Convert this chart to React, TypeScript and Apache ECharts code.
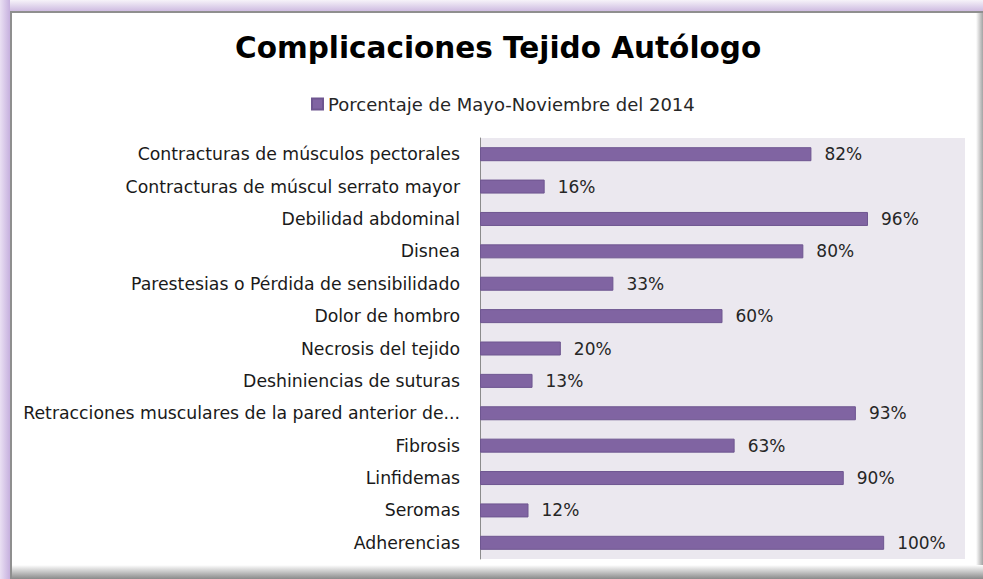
import React, { useEffect, useRef } from "react";
import * as echarts from "echarts";

const categories = [
  "Contracturas de músculos pectorales",
  "Contracturas de múscul serrato mayor",
  "Debilidad abdominal",
  "Disnea",
  "Parestesias o Pérdida de sensibilidado",
  "Dolor de hombro",
  "Necrosis del tejido",
  "Deshiniencias de suturas",
  "Retracciones musculares de la pared anterior de...",
  "Fibrosis",
  "Linfidemas",
  "Seromas",
  "Adherencias",
];
const values = [82, 16, 96, 80, 33, 60, 20, 13, 93, 63, 90, 12, 100];
const seriesName = "Porcentaje de Mayo-Noviembre del 2014";
const titleText = "Complicaciones Tejido Autólogo";

const FONT = "DejaVu Sans";

export default function App() {
  const ref = useRef<HTMLDivElement>(null);
  useEffect(() => {
    const chart = echarts.init(ref.current!, null, { renderer: "svg" });
    chart.setOption({
      animation: false,
      backgroundColor: "#ffffff",
      textStyle: { fontFamily: FONT },
      title: {
        text: titleText,
        left: 230,
        top: 28,
        textStyle: { fontFamily: FONT, fontSize: 29.5, fontWeight: "bold", color: "#000000" },
      },
      legend: {
        top: 90,
        left: 306,
        icon: "rect",
        itemWidth: 11,
        itemHeight: 11,
        itemGap: 5,
        textStyle: { fontFamily: FONT, fontSize: 18, color: "#262626" },
        data: [seriesName],
      },
      grid: {
        left: 480,
        right: 18,
        top: 138,
        bottom: 20,
        show: true,
        backgroundColor: "#EBE8EF",
        borderWidth: 0,
        containLabel: false,
      },
      xAxis: {
        type: "value",
        min: 0,
        max: 120,
        show: false,
        splitLine: { show: false },
      },
      yAxis: {
        type: "category",
        inverse: true,
        data: categories,
        axisLine: { show: true, lineStyle: { color: "#8C8C8C", width: 1 } },
        axisTick: { show: false },
        axisLabel: {
          fontFamily: FONT,
          fontSize: 17.3,
          color: "#1a1a1a",
          margin: 20,
        },
      },
      graphic: [
        {
          type: "rect",
          z: 0,
          shape: { x: 0, y: 0, width: 983, height: 12 },
          style: {
            fill: new echarts.graphic.LinearGradient(0, 0, 0, 1, [
              { offset: 0, color: "#F6F3F9" },
              { offset: 1, color: "#CBB7DF" },
            ]),
          },
        },
        {
          type: "rect",
          z: 0,
          shape: { x: 0, y: 0, width: 10, height: 579 },
          style: {
            fill: new echarts.graphic.LinearGradient(0, 0, 1, 0, [
              { offset: 0, color: "#EAE0F3" },
              { offset: 1, color: "#C6B0DE" },
            ]),
          },
        },
        {
          type: "rect",
          z: 1,
          shape: { x: 10, y: 11, width: 973, height: 2 },
          style: { fill: "#8F8F8F" },
        },
        {
          type: "rect",
          z: 1,
          shape: { x: 10, y: 11, width: 2, height: 568 },
          style: { fill: "#8F8F8F" },
        },
        {
          type: "rect",
          z: 1,
          shape: { x: 976, y: 13, width: 7, height: 566 },
          style: {
            fill: new echarts.graphic.LinearGradient(0, 0, 1, 0, [
              { offset: 0, color: "#FFFFFF" },
              { offset: 1, color: "#A3A3A3" },
            ]),
          },
        },
        {
          type: "rect",
          z: 1,
          shape: { x: 12, y: 565, width: 971, height: 14 },
          style: {
            fill: new echarts.graphic.LinearGradient(0, 0, 0, 1, [
              { offset: 0, color: "#FFFFFF" },
              { offset: 1, color: "#8A8A8A" },
            ]),
          },
        },
      ],
      series: [
        {
          name: seriesName,
          type: "bar",
          data: values,
          barWidth: 14,
          itemStyle: { color: "#8064A2", borderColor: "#6E5690", borderWidth: 1 },
          label: {
            show: true,
            position: "right",
            distance: 13,
            formatter: "{c}%",
            fontFamily: FONT,
            fontSize: 17,
            color: "#262626",
          },
        },
      ],
    });
    return () => chart.dispose();
  }, []);
  return <div ref={ref} style={{ width: 983, height: 579, position: "absolute", left: 0, top: 0 }} />;
}
